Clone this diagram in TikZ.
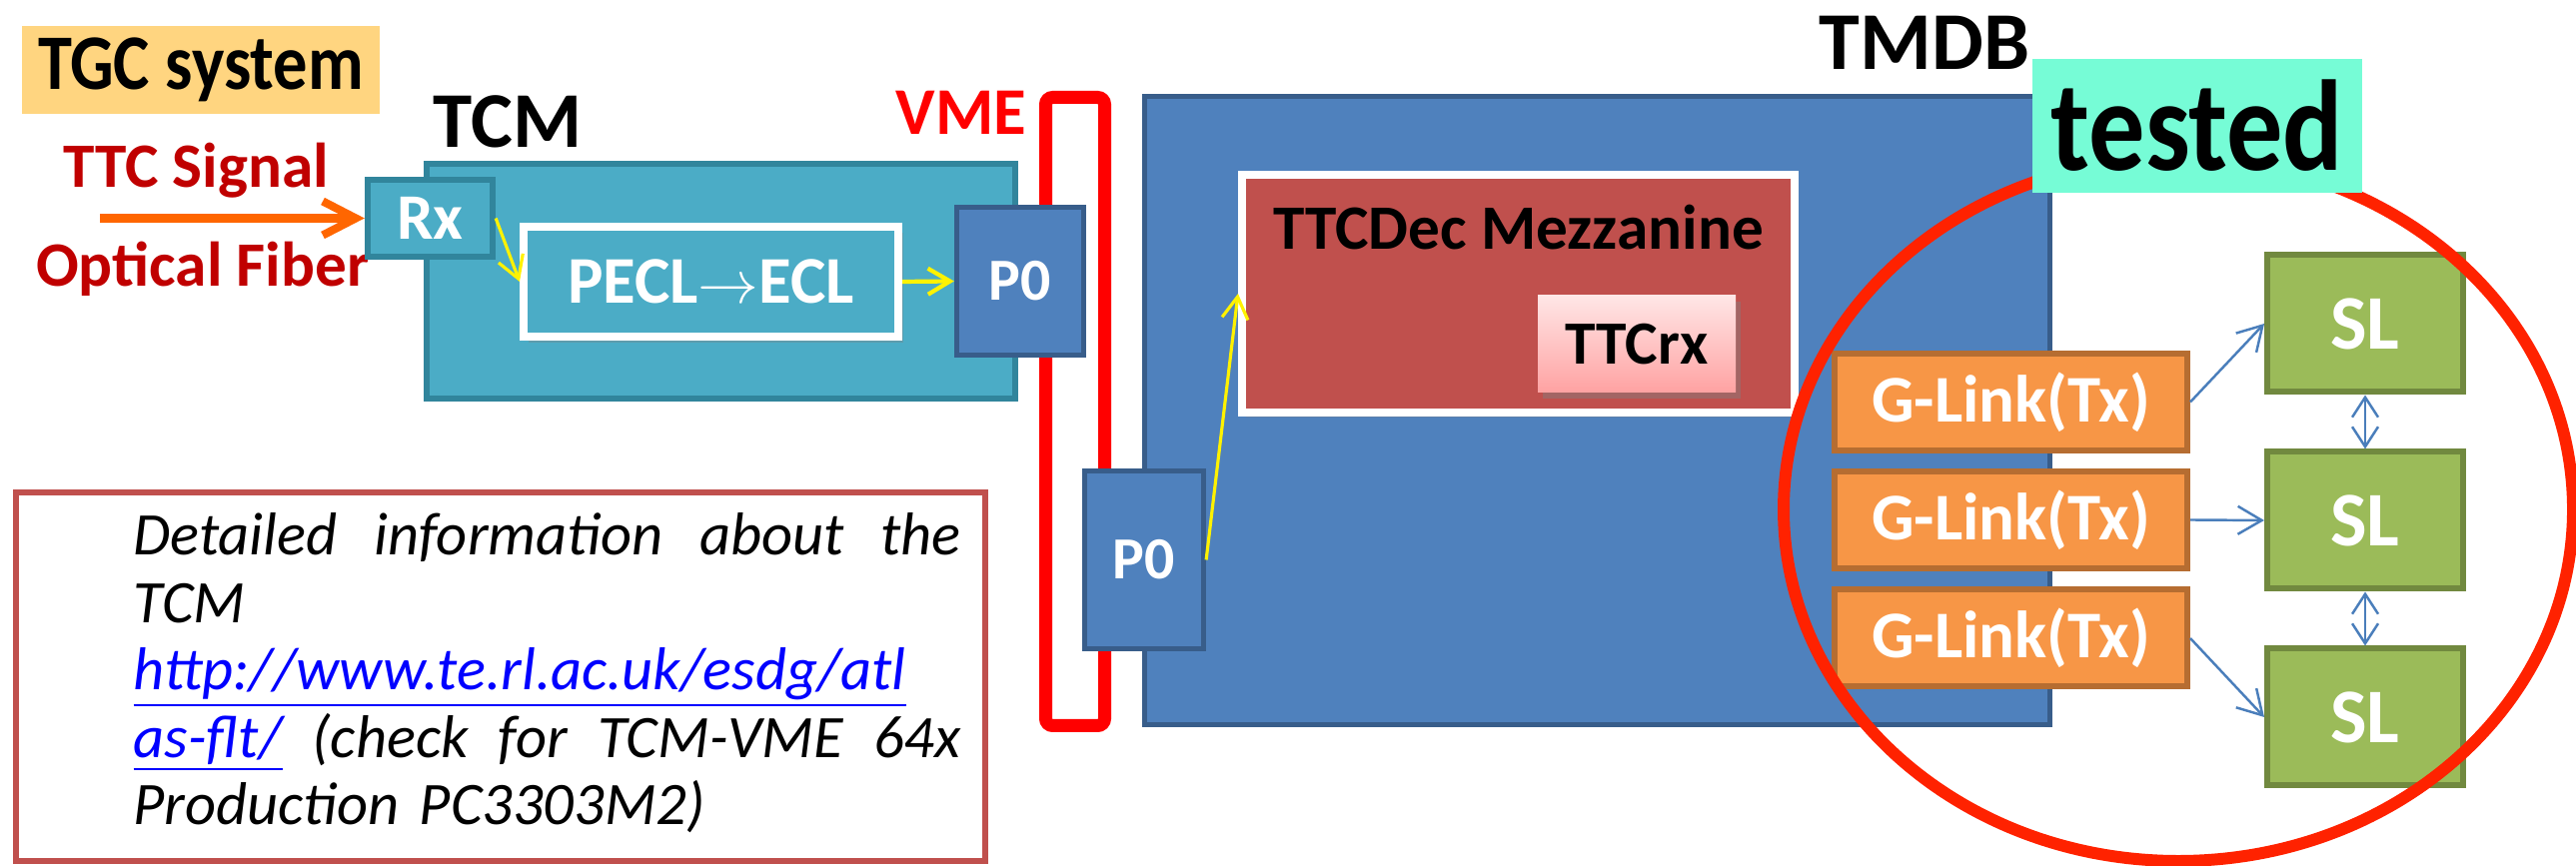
\documentclass[tikz,border=0pt]{standalone}
\usepackage{fontspec}
\setmainfont{Carlito}
\usetikzlibrary{arrows.meta,shadows}
\definecolor{tgcfill}{HTML}{FFD580}
\definecolor{ttcred}{HTML}{C00000}
\definecolor{fiberorange}{HTML}{FF6600}
\definecolor{tcmfill}{HTML}{4BACC6}
\definecolor{tcmline}{HTML}{31859C}
\definecolor{bluefill}{HTML}{4F81BD}
\definecolor{blueline}{HTML}{385D8A}
\definecolor{vmered}{HTML}{FF0000}
\definecolor{mezzfill}{HTML}{C0504D}
\definecolor{ttcrxtop}{HTML}{FFE6E6}
\definecolor{ttcrxbottom}{HTML}{FFA2A2}
\definecolor{glinkfill}{HTML}{F79646}
\definecolor{glinkline}{HTML}{B66D31}
\definecolor{slfill}{HTML}{9BBB59}
\definecolor{slline}{HTML}{71893F}
\definecolor{linkblue}{HTML}{4A7EBB}
\definecolor{ringred}{HTML}{FF2200}
\definecolor{testedfill}{HTML}{76FCD6}
\definecolor{urlblue}{HTML}{0000FF}
\newcommand{\fsz}[1]{\fontsize{#1}{#1}\selectfont}

\begin{document}
\begin{tikzpicture}[
		every node/.style={font=\bfseries},
		tcmbox/.style={draw=tcmline, fill=tcmfill, line width=1.8pt, text=white, inner sep=0pt},
		pzero/.style={draw=blueline, fill=bluefill, line width=1.5pt, text=white, inner sep=0pt, font=\fsz{17}\bfseries},
		glink/.style={draw=glinkline, fill=glinkfill, line width=1.7pt, text=white, minimum width=3.53cm, minimum height=0.97cm, font=\fsz{19}\bfseries},
		slbox/.style={draw=slline, fill=slfill, line width=1.7pt, text=white, minimum width=1.96cm, minimum height=1.37cm, font=\fsz{22}\bfseries},
		yarrow/.style={yellow, line width=0.9pt, -{Straight Barb[length=2.2mm,width=2.6mm]}},
		barrow/.style={linkblue, line width=0.7pt, -{Straight Barb[length=2.4mm,width=2.8mm]}},
		darrow/.style={linkblue, line width=0.7pt, {Straight Barb[length=2mm,width=2.6mm]}-{Straight Barb[length=2mm,width=2.6mm]}},
	]
	\useasboundingbox (0,0) rectangle (25.78,8.67);

	\node[fill=tgcfill, minimum width=3.58cm, minimum height=0.86cm, font=\fsz{19.5}\bfseries] (tgc) at (2.01,7.97) {\scalebox{1}[1.15]{TGC system}};
	\node[anchor=base, font=\fsz{22.5}\bfseries] (tcmlabel) at (5.08,7.19) {TCM};
	\node[anchor=base, text=ttcred, font=\fsz{18}\bfseries] (ttcsignal) at (1.96,6.79) {TTC Signal};
	\node[anchor=base, text=ttcred, font=\fsz{18}\bfseries] (fiber) at (2.03,5.80) {Optical Fiber};
	\node[anchor=base, text=vmered, font=\fsz{19}\bfseries] (vmelabel) at (9.62,7.32) {VME};
	\node[anchor=base, font=\fsz{23.4}\bfseries] (tmdblabel) at (19.26,7.97) {TMDB};

	\node[tcmbox, minimum width=5.89cm, minimum height=2.35cm] (tcm) at (7.215,5.855) {};
	\node[tcmbox, minimum width=1.25cm, minimum height=0.77cm, font=\fsz{18.5}\bfseries] (rx) at (4.305,6.485) {Rx};
	\node[draw=white, fill=tcmfill, line width=2.3pt, text=white, minimum width=3.75cm, minimum height=1.10cm, font=\fsz{19}\bfseries,
		drop shadow={opacity=0.35, shadow xshift=0.05cm, shadow yshift=-0.06cm}] (pecl) at (7.115,5.85) {PECL$\rightarrow$ECL};
	\coordinate (fiberstart) at (1.00,6.485);
	\draw[fiberorange, line width=2.3pt, -{Straight Barb[length=3.3mm,width=3.4mm]}] (fiberstart) -- (rx.west);

	\node[draw=vmered, line width=3.7pt, rounded corners=2pt, minimum width=0.59cm, minimum height=6.29cm] (vme) at (10.76,4.55) {};
	\node[pzero, minimum width=1.27cm, minimum height=1.48cm] (p0t) at (10.21,5.855) {P0};

	\node[draw=blueline, fill=bluefill, line width=1.5pt, minimum width=9.06cm, minimum height=6.29cm] (tmdb) at (15.985,4.56) {};
	\node[pzero, minimum width=1.19cm, minimum height=1.78cm] (p0b) at (11.45,3.065) {P0};
	\node[draw=white, fill=mezzfill, line width=2.3pt, minimum width=5.53cm, minimum height=2.38cm,
		drop shadow={opacity=0.3, shadow xshift=0.04cm, shadow yshift=-0.05cm}] (mezz) at (15.195,5.73) {};
	\node[anchor=base west, font=\fsz{18}\bfseries] (mezzlabel) at (12.62,6.17) {TTCDec Mezzanine};
	\node[top color=ttcrxtop, bottom color=ttcrxbottom, minimum width=1.98cm, minimum height=0.97cm, font=\fsz{17.5}\bfseries,
		drop shadow={opacity=0.45, shadow xshift=0.05cm, shadow yshift=-0.06cm}] (ttcrx) at (16.38,5.225) {TTCrx};

	\draw[yarrow] (rx.east) -- (pecl.west);
	\draw[yarrow, line width=1.2pt] (pecl.east) -- (p0t.west);
	\draw[yarrow] (p0b.east) -- (mezz.west);

	\node[glink] (glink1) at (20.125,4.645) {G-Link(Tx)};
	\node[glink] (glink2) at (20.125,3.465) {G-Link(Tx)};
	\node[glink] (glink3) at (20.125,2.28) {G-Link(Tx)};
	\node[slbox] (sl1) at (23.67,5.43) {SL};
	\node[slbox] (sl2) at (23.67,3.46) {SL};
	\node[slbox] (sl3) at (23.67,1.49) {SL};

	\draw[barrow] (glink1.east) -- (sl1.west);
	\draw[barrow] (glink2.east) -- (sl2.west);
	\draw[barrow] (glink3.east) -- (sl3.west);
	\draw[darrow] (sl1.south) -- (sl2.north);
	\draw[darrow] (sl2.south) -- (sl3.north);

	\draw[ringred, line width=3.4pt] (21.80,3.57) ellipse [x radius=3.95, y radius=3.52];
	\node[fill=testedfill, minimum width=3.30cm, minimum height=1.34cm, font=\fsz{32}\bfseries] (tested) at (21.99,7.41) {\scalebox{1}[1.15]{tested}};

	\node[draw=mezzfill, line width=1.7pt, minimum width=9.70cm, minimum height=3.69cm] (infobox) at (5.01,1.895) {};
	\node[anchor=north west, inner sep=0pt, text width=8.28cm, font=\fontsize{17.2}{19.2}\selectfont\mdseries\itshape] (infotext) at (1.33,3.54) {%
		\leavevmode\hbox to 8.28cm{Detailed \hfill information \hfill about \hfill the}\\
		TCM\\
		{\color{urlblue}\underline{http://www.te.rl.ac.uk/esdg/atl}}\\
		\leavevmode\hbox to 8.28cm{{\color{urlblue}\underline{as-flt/}} \hfill (check \hfill for \hfill TCM-VME \hfill 64x}\\
		Production PC3303M2)};
\end{tikzpicture}
\end{document}
